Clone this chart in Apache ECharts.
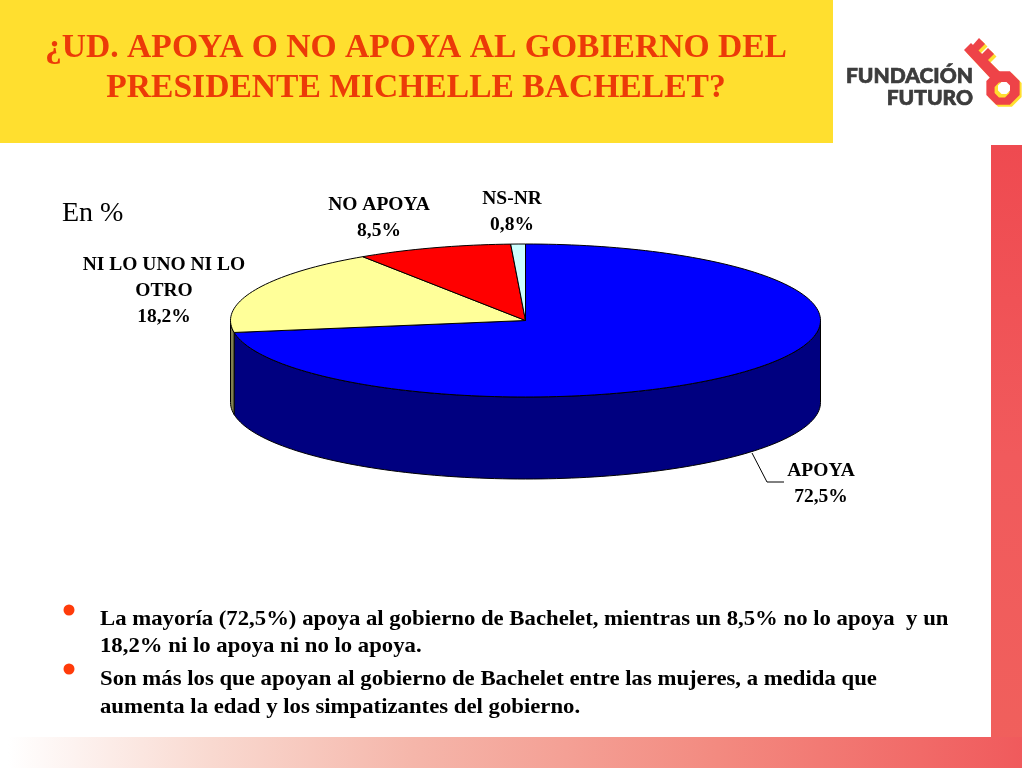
<!DOCTYPE html>
<html><head><meta charset="utf-8">
<style>html,body{margin:0;padding:0;background:#fff}#c{width:1024px;height:768px}</style>
<script src="https://cdn.jsdelivr.net/npm/echarts@6/dist/echarts.min.js"></script>
</head><body><div id="c"></div>
<script>
const categories = ['APOYA', 'NI LO UNO NI LO OTRO', 'NO APOYA', 'NS-NR'];
const values = [72.5, 18.2, 8.5, 0.8];
const valueLabels = ['72,5%', '18,2%', '8,5%', '0,8%'];
const topColors = ['#0000FF', '#FFFF99', '#FF0000', '#CCFFFF'];
const wallColors = ['#000080', '#808050', '#800000', '#668080'];
const titleLines = ['¿UD. APOYA O NO APOYA AL GOBIERNO DEL', 'PRESIDENTE MICHELLE BACHELET?'];
const bullets = [
  ['La mayoría (72,5%) apoya al gobierno de Bachelet, mientras un 8,5% no lo apoya  y un', '18,2% ni lo apoya ni no lo apoya.'],
  ['Son más los que apoyan al gobierno de Bachelet entre las mujeres, a medida que', 'aumenta la edad y los simpatizantes del gobierno.']
];

const CX = 525.5, CY = 320.5, RX = 295, RY = 76.5, DEPTH = 82;
const SERIF = '"Liberation Serif","Times New Roman",serif';
const total = values.reduce((a, b) => a + b, 0);
const pt = (deg, dy) => {
  const r = deg * Math.PI / 180;
  return [CX + RX * Math.sin(r), CY - RY * Math.cos(r) + (dy || 0)];
};
const arc = (a, b, dy) => {
  const n = Math.max(2, Math.ceil(Math.abs(b - a) / 1.5));
  const out = [];
  for (let i = 0; i <= n; i++) out.push(pt(a + (b - a) * i / n, dy));
  return out;
};
const starts = [];
values.reduce((acc, v, i) => { starts[i] = acc; return acc + v; }, 0);

function renderPie(params, api) {
  const i = api.value(0);
  const a0 = starts[i] / total * 360, a1 = (starts[i] + values[i]) / total * 360;
  const children = [];
  const w0 = Math.max(a0, 90), w1 = Math.min(a1, 270);
  if (w1 > w0) {
    const top = arc(w0, w1, 0), bottom = arc(w1, w0, DEPTH);
    children.push({ type: 'polygon', z2: 1, shape: { points: top.concat(bottom) },
      style: { fill: wallColors[i], stroke: '#000', lineWidth: 1 } });
  }
  children.push({ type: 'polygon', z2: 2, shape: { points: [[CX, CY]].concat(arc(a0, a1, 0)) },
    style: { fill: topColors[i], stroke: '#000', lineWidth: 1, lineJoin: 'round' } });
  return { type: 'group', children };
}

const labelAnchors = [[821, 471], [164, 265], [379, 205], [512, 199]];
const labelLines = [[categories[0]], ['NI LO UNO NI LO', 'OTRO'], [categories[2]], [categories[3]]];
const LH = 26;
const g = [];
const rect = (x, y, w, h, fill, z) => g.push({ type: 'rect', shape: { x, y, width: w, height: h }, style: { fill }, z: z || 0 });
const txt = (x, y, text, font, fill, align, sx, extra) => g.push({ type: 'text', x, y, z: 5, scaleX: sx || 1,
  style: Object.assign({ text, font, fill, textAlign: align || 'left', textVerticalAlign: 'middle' }, extra || {}) });
const poly = (points, fill) => g.push({ type: 'polygon', shape: { points }, style: { fill }, z: 3 });

rect(0, 0, 833, 143, '#FFDF2F');
g.push({ type: 'rect', shape: { x: 991, y: 145, width: 31, height: 623 }, z: 1,
  style: { fill: { type: 'linear', x: 0, y: 0, x2: 0, y2: 1, colorStops: [
    { offset: 0, color: '#EF4A50' }, { offset: 0.5, color: '#F15A5C' }, { offset: 1, color: '#F0605C' }] } } });
g.push({ type: 'rect', shape: { x: 8, y: 737, width: 1014, height: 31 }, z: 1,
  style: { fill: { type: 'linear', x: 0, y: 0, x2: 1, y2: 0, colorStops: [
    { offset: 0, color: '#FFFFFF' }, { offset: 0.2, color: '#F9D9D0' }, { offset: 0.4, color: '#F5B6AA' },
    { offset: 0.7, color: '#F38A80' }, { offset: 1, color: '#F05A5C' }] } } });

titleLines.forEach((t, i) => txt(416, 48 + i * 40, t, 'bold 33.6px ' + SERIF, '#EC3A08', 'center'));
txt(62, 214, 'En %', '28px ' + SERIF, '#000');

// leader line for APOYA
g.push({ type: 'polyline', z: 3, shape: { points: [[752, 453], [767, 482], [784, 482]] }, style: { stroke: '#000', lineWidth: 1, fill: 'none' } });

categories.forEach((c, i) => {
  const a = labelAnchors[i];
  const lines = labelLines[i].concat([valueLabels[i]]);
  lines.forEach((l, k) => txt(a[0], a[1] + k * LH, l, 'bold 19.5px ' + SERIF, '#000', 'center'));
});

const bulletY = [[620, 647], [680, 708]];
const dotY = [610, 669];
bullets.forEach((b, i) => {
  g.push({ type: 'circle', z: 5, shape: { cx: 69, cy: dotY[i], r: 5.5 }, style: { fill: '#FF3B0A' } });
  b.forEach((l, k) => txt(100, bulletY[i][k], l, 'bold 21px ' + SERIF, '#000', 'left', 1.083));
});

// logo
const FL = 'Lato,"Open Sans",sans-serif';
const heavy = { stroke: '#3C3C3C', lineWidth: 0.7 };
txt(973, 76, 'FUNDACIÓN', '900 21px ' + FL, '#3C3C3C', 'right', 1, heavy);
txt(973, 98, 'FUTURO', '900 21px ' + FL, '#3C3C3C', 'right', 1, heavy);
const oct = (cx, cy, r) => [0,1,2,3,4,5,6,7].map(k => {
  const t = (k + 0.5) * Math.PI / 4;
  return [cx + r * Math.cos(t), cy + r * Math.sin(t)];
});
const off = (pts, d) => pts.map(p => [p[0] + d, p[1] + d]);
const shaft = [[964, 50], [971, 43], [1001, 73], [993, 81]];
const tooth1 = [[972, 46], [979, 38], [985, 44], [978, 51]];
const tooth2 = [[981, 55], [988, 48], [994, 54], [987, 61]];
[shaft, tooth1, tooth2].forEach(p => poly(off(p, 2.5), '#FFDF2F'));
poly(off(oct(1003, 88, 18), 2), '#FFDF2F');
[shaft, tooth1, tooth2].forEach(p => poly(p, '#EE4348'));
poly(oct(1003, 88, 18), '#EE4348');
g.push({ type: 'polygon', z: 3, shape: { points: oct(1002, 90, 8) }, style: { fill: '#FFDF2F' } });
g.push({ type: 'polygon', z: 3, shape: { points: oct(1004, 88, 6.5) }, style: { fill: '#FFF' } });

const chart = echarts.init(document.getElementById('c'), null, { width: 1024, height: 768, renderer: 'canvas' });
chart.setOption({
  animation: false,
  backgroundColor: '#fff',
  graphic: { elements: g },
  series: [{
    type: 'custom',
    coordinateSystem: 'none',
    clip: false,
    silent: true,
    z: 2,
    data: categories.map((c, i) => ({ name: c, value: [i, values[i]] })),
    renderItem: renderPie
  }]
});
</script></body></html>
